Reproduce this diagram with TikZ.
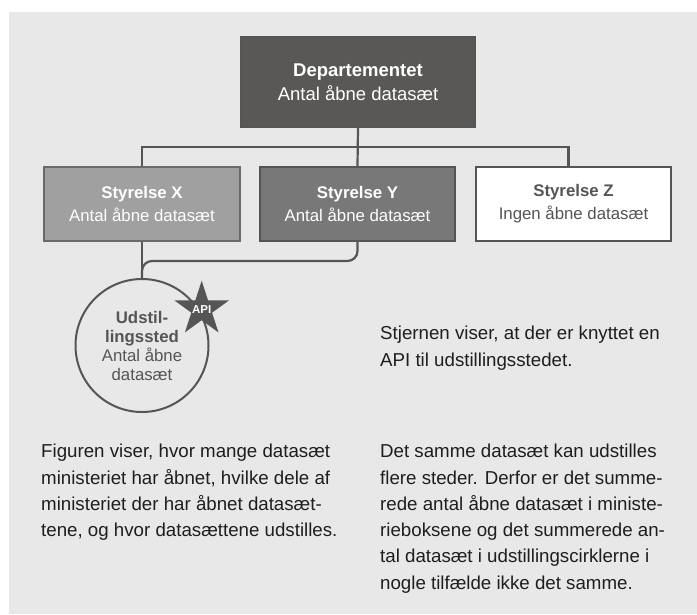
\documentclass[tikz,border=0pt]{standalone}
\usepackage{fontspec}
\setmainfont{Liberation Sans}
\definecolor{bg}{HTML}{E8E8E8}
\definecolor{lc}{HTML}{555555}
\definecolor{depfill}{HTML}{595856}
\definecolor{xfill}{HTML}{A0A0A0}
\definecolor{xedge}{HTML}{6A6A6A}
\definecolor{yfill}{HTML}{787878}
\definecolor{txt}{HTML}{1E1E1E}
\tikzset{
  conn/.style={draw=lc, line width=2.2pt},
  orgbox/.style={draw=lc, line width=2pt, inner sep=0pt, align=center, rectangle},
  subfont/.style={font=\fontsize{16.8pt}{23pt}\selectfont},
  para/.style={anchor=north west, inner sep=0pt, align=left, text=txt,
    font=\fontsize{18.7pt}{26.3pt}\selectfont},
}
\begin{document}
\begin{tikzpicture}[x=1pt,y=-1pt]
\useasboundingbox (0,0) rectangle (697,614);
\fill[white] (0,0) rectangle (697,614);
\fill[bg] (9,12) rectangle (697,614);

% boxes
\node[orgbox, fill=depfill, text=white, minimum width=234pt, minimum height=90pt,
  font=\fontsize{18.5pt}{24pt}\selectfont] (dep) at (358,82)
  {\textbf{Departementet}\\Antal åbne datasæt};
\node[orgbox, subfont, draw=xedge, fill=xfill, text=white, minimum width=196pt, minimum height=74pt] (xs) at (142,204)
  {\textbf{Styrelse X}\\Antal åbne datasæt};
\node[orgbox, subfont, fill=yfill, text=white, minimum width=195pt, minimum height=74pt] (ys) at (357.5,204)
  {\textbf{Styrelse Y}\\Antal åbne datasæt};
\node[orgbox, subfont, fill=white, text=lc, minimum width=195pt, minimum height=74pt] (zs) at (573.5,204)
  {\textbf{Styrelse Z}\\Ingen åbne datasæt};

% circle
\node[circle, draw=lc, line width=2pt, fill=bg, minimum size=133pt, inner sep=0pt,
  align=center, text=lc, font=\fontsize{16.8pt}{19pt}\selectfont] (ud) at (142,345.5)
  {\textbf{Udstil-}\\\textbf{lingssted}\\Antal åbne\\datasæt};

% connectors
\draw[conn] (dep.south) -- (ys.north);
\draw[conn] (xs.north) -- ++(0,-19) -| ([xshift=-5pt]zs.north);
\draw[conn] (xs.south) -- (ud.north);
\draw[conn, rounded corners=10pt] (ys.south) -- ++(0,19) -| (ud.north);

% star
\coordinate (st) at (201.7,309.3);
\fill[lc, shift={(st)}] (-90:28.6) -- (-54:10.9) -- (-18:28.6) -- (18:10.9) -- (54:28.6)
  -- (90:10.9) -- (126:28.6) -- (162:10.9) -- (198:28.6) -- (234:10.9) -- cycle;
\node[text=white, inner sep=0pt, font=\fontsize{11.5pt}{12pt}\selectfont\bfseries] (api) at (st) {API};

% texts
\node[para] (note) at (380,326) {Stjernen viser, at der er knyttet en\\API til udstillingsstedet.};
\node[para] (left) at (41,444) {Figuren viser, hvor mange datasæt\\ministeriet har åbnet, hvilke dele af\\ministeriet der har åbnet datasæt-\\tene, og hvor datasættene udstilles.};
\node[para] (right) at (380,444) {Det samme datasæt kan udstilles\\flere steder. Derfor er det summe-\\rede antal åbne datasæt i ministe-\\rieboksene og det summerede an-\\tal datasæt i udstillingscirklerne i\\nogle tilfælde ikke det samme.};
\end{tikzpicture}
\end{document}
